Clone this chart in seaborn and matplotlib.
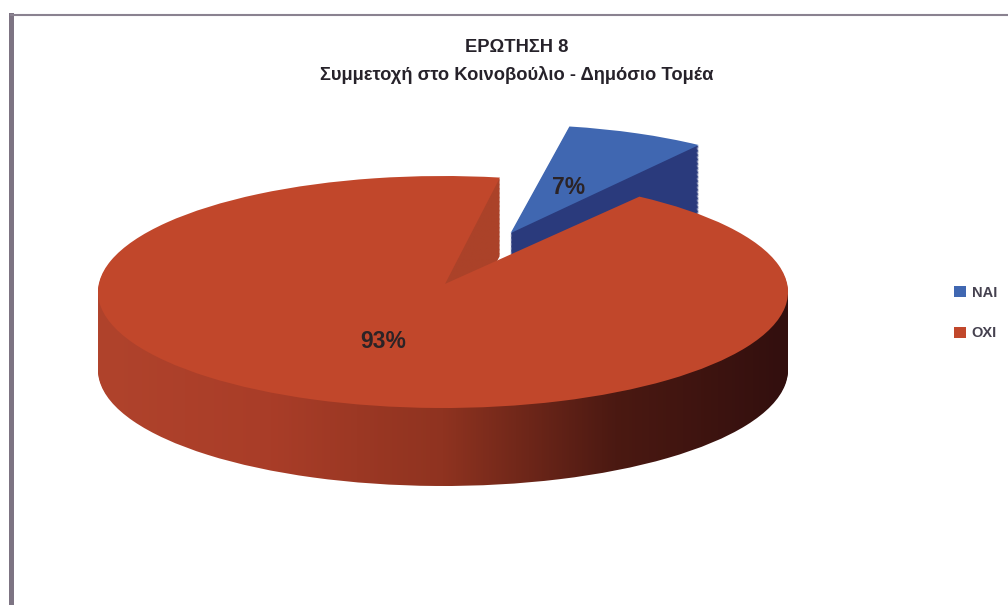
import numpy as np
import matplotlib
matplotlib.use("Agg")
import matplotlib.pyplot as plt
import seaborn as sns

labels = ["NAI", "OXI"]
values = [7, 93]
title_lines = ["ΕΡΩΤΗΣΗ 8", "Συμμετοχή στο Κοινοβούλιο - Δημόσιο Τομέα"]

blue_top = "#4067b1"
blue_side = "#2a3a7c"
red_top = "#c1472b"
red_wall = "#ab4229"
side_stops = ["#b0432c", "#a93d28", "#8f3320", "#4b1912", "#320f0e"]

W, H = 1008, 605
dpi = 100
left, top = 10.5, 15  # where the scanned frame sits
cx, cy, rx, ry = 443, 292, 345, 116
depth = 78 / ry
n_layers = 60

sns.set_theme(style="white")
plt.rcParams["font.family"] = ["Liberation Sans", "DejaVu Sans"]

fig = plt.figure(figsize=(W / dpi, H / dpi), dpi=dpi)
fig.patch.set_facecolor("white")
ax = fig.add_axes([left / W, 0, 1 - left / W, 1 - top / H])

# side shading: dark to the right, the cut wall seen through the gap is flat
side_cmap = sns.blend_palette(side_stops, n_colors=256, as_cmap=True)
shade = np.tile(side_cmap(np.linspace(0, 1, 256)), (64, 1, 1))
wall_rows = np.linspace(1.3, -1.9, 64) > 0
shade[wall_rows] = matplotlib.colors.to_rgba(red_wall)


def draw_slice(keep, radius, explode, color, drop, zorder, start, nudge=(0, 0), apex=(0, 0), pct=None):
    # one full pie per layer, only the wanted slice is kept
    expl = [explode if i == keep else 0 for i in range(len(values))]
    res = ax.pie(values, radius=radius, explode=expl, startangle=start, counterclock=False,
                 colors=[color, color], center=(nudge[0], nudge[1] - drop), wedgeprops=dict(linewidth=0),
                 autopct="%.0f%%" if pct else None, pctdistance=pct or 0.6,
                 textprops=dict(fontsize=16.5, fontweight="bold", color="#2b2326"))
    wedges = res[0]
    wedges[1 - keep].remove()
    wedge = wedges[keep]
    wedge.set_zorder(zorder)
    # perspective of the original pulls the tip of the slice a bit off the ellipse centre
    v = wedge.get_path().vertices
    v[np.hypot(*(v - np.asarray(wedge.center)).T) < 1e-9] += apex
    if pct:
        res[2][1 - keep].remove()
        res[2][keep].set_zorder(500)
    return wedge


blue_kw = dict(radius=0.935, explode=0.53, start=79.5, nudge=(-0.012, 0.02))
red_kw = dict(radius=1.0, explode=0, start=80.5, apex=(0.006, 0.07))

drops = np.linspace(depth, 0, n_layers, endpoint=False)
for k, d in enumerate(drops):
    draw_slice(0, color=blue_side, drop=d, zorder=2 * k + 1, **blue_kw)
    w = draw_slice(1, color="none", drop=d, zorder=2 * k + 2, **red_kw)
    im = ax.imshow(shade, extent=(-1.0, 1.0, -1.9, 1.3), aspect="auto", zorder=2 * k + 2)
    im.set_clip_path(w)

nai = draw_slice(0, color=blue_top, drop=0, zorder=300, pct=0.46, **blue_kw)
oxi = draw_slice(1, color=red_top, drop=0, zorder=301, pct=0.46, **red_kw)

ax.set_aspect("auto")
ax.set_xlim((left - cx) / rx, (W - cx) / rx)
ax.set_ylim((cy - H) / ry, (cy - top) / ry)
ax.set_xticks([])
ax.set_yticks([])

# frame of the scanned chart, only left and top show
ax.set_frame_on(True)
ax.spines["right"].set_visible(False)
ax.spines["bottom"].set_visible(False)
ax.spines["left"].set_color("#7d7483")
ax.spines["left"].set_linewidth(3.6)
ax.spines["top"].set_color("#8a8290")
ax.spines["top"].set_linewidth(1.5)

fig.text(517 / W, 1 - 48 / H, title_lines[0], ha="center", va="center",
         fontsize=13.2, fontweight="bold", color="#26222a")
fig.text(517 / W, 1 - 75 / H, title_lines[1], ha="center", va="center",
         fontsize=13.2, fontweight="bold", color="#26222a")

fig.legend([nai, oxi], labels, loc="center left", bbox_to_anchor=(941 / W, 1 - 313 / H),
           frameon=False, handlelength=0.8, handleheight=0.8, handletextpad=0.4,
           labelspacing=1.85, prop=dict(size=10.5, weight="bold"), labelcolor="#45414f")

fig.savefig("out.png", dpi=dpi)
